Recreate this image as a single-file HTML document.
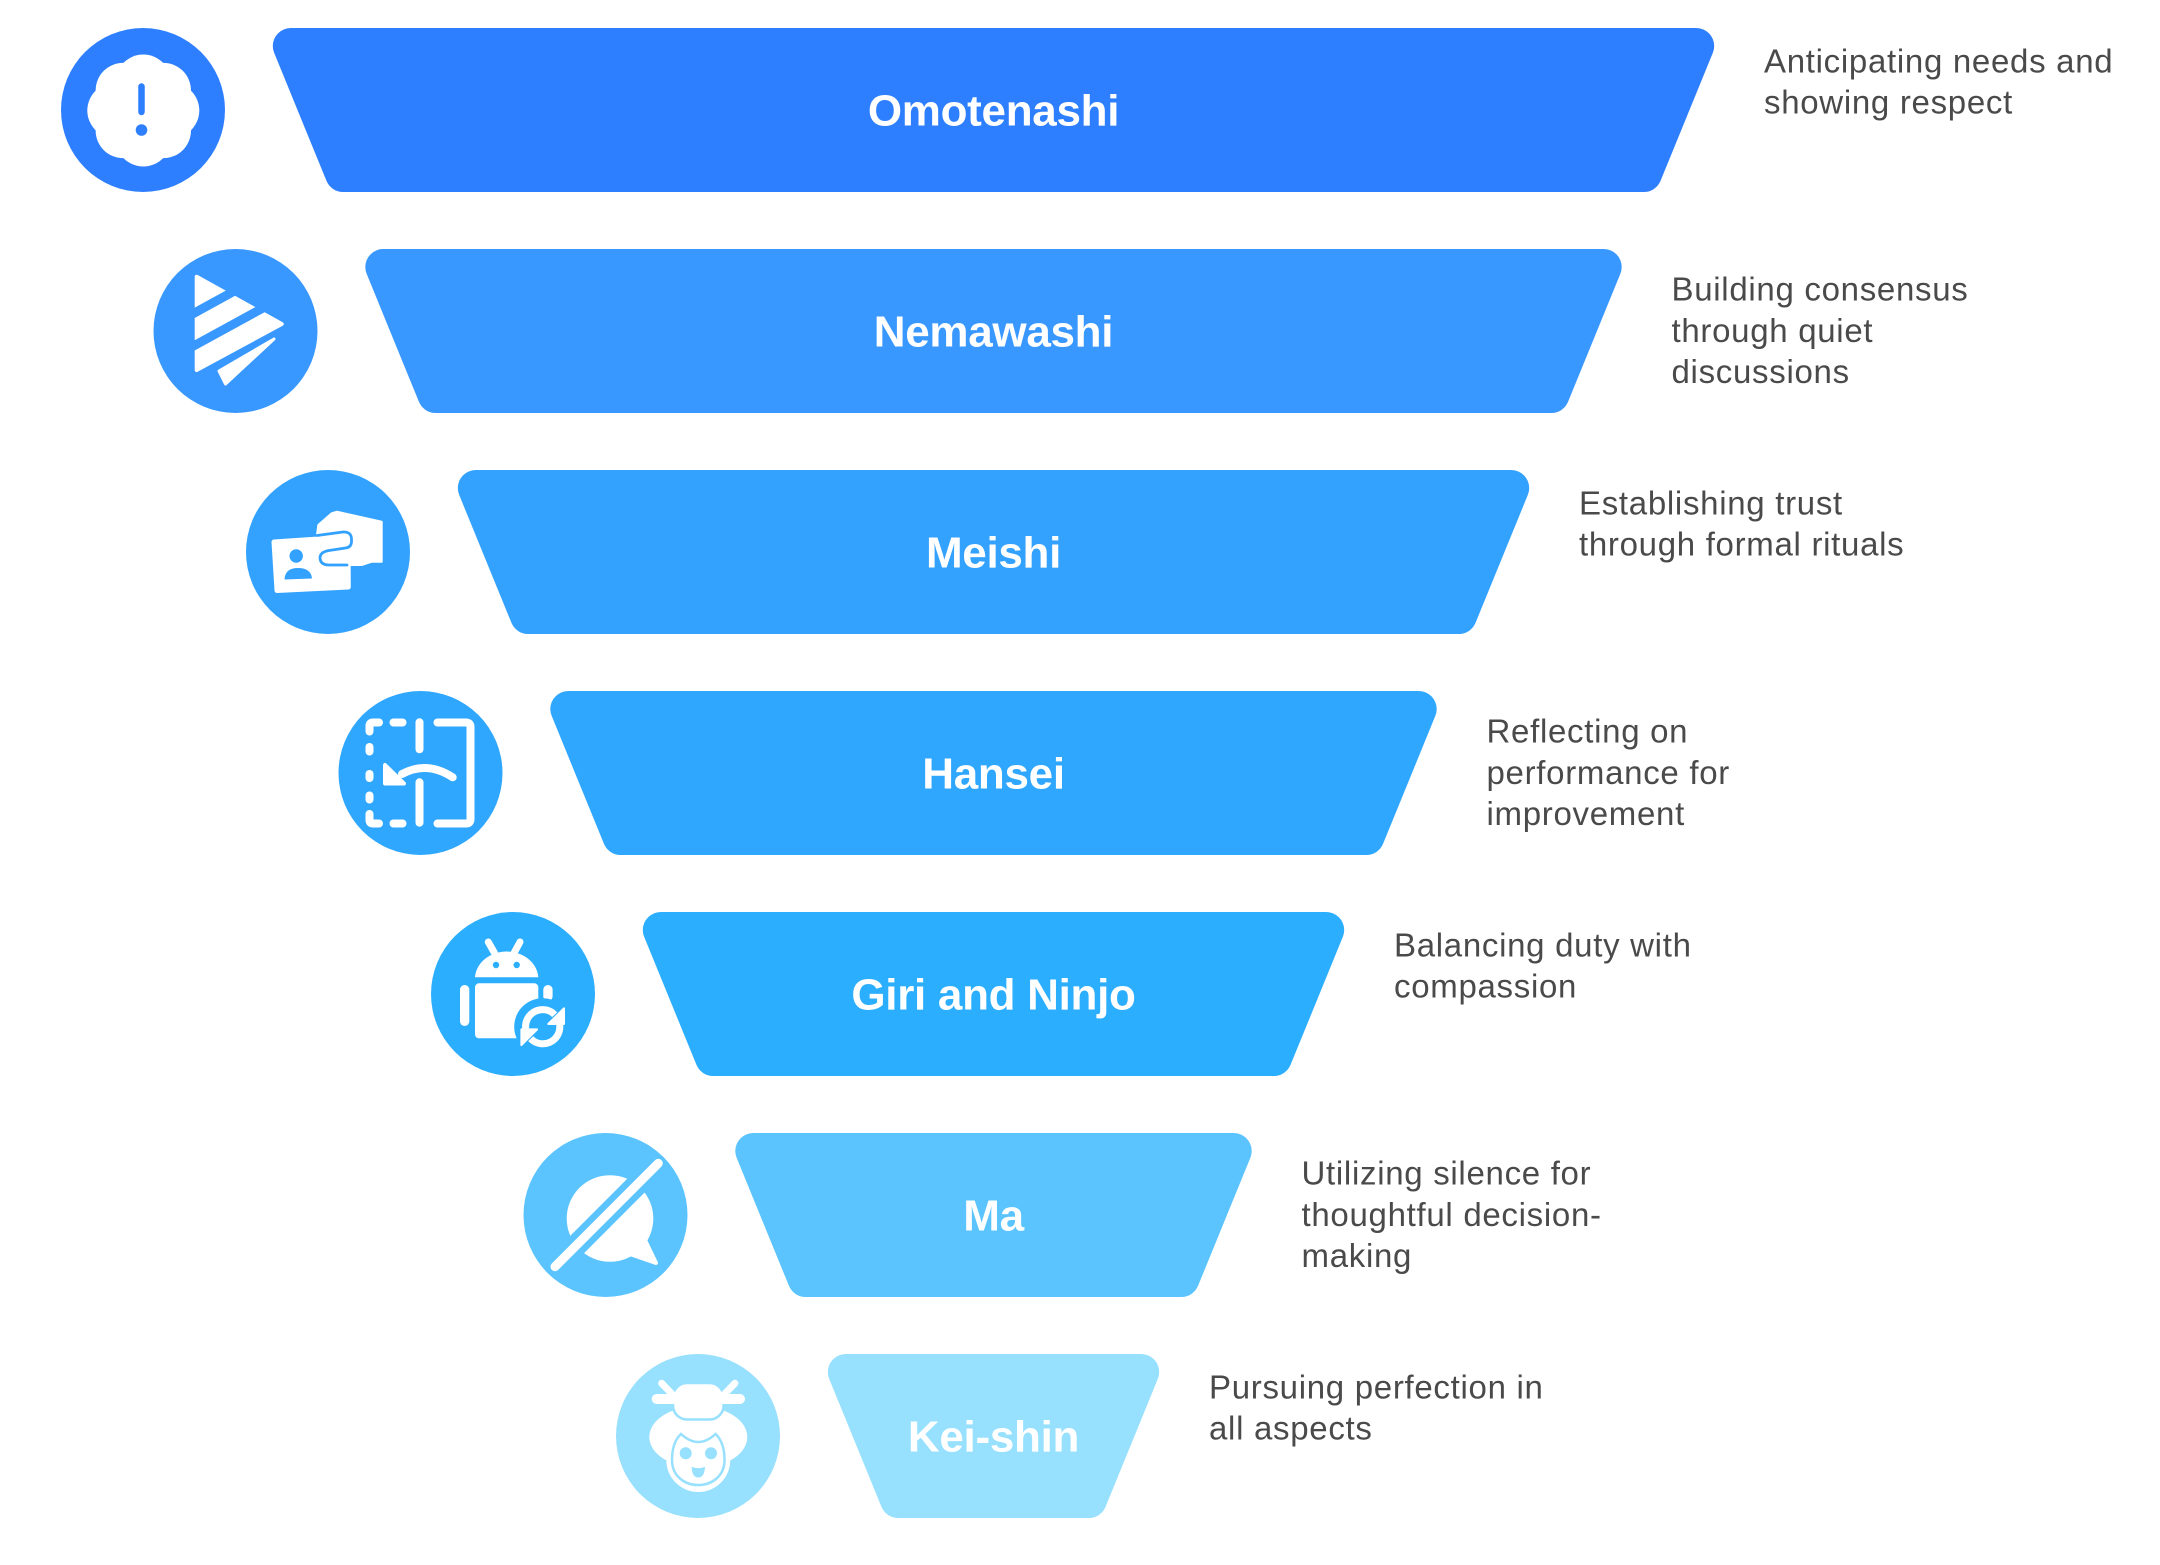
<!DOCTYPE html>
<html>
<head>
<meta charset="utf-8">
<style>
  html,body{margin:0;padding:0;background:#fff;}
  svg{display:block;}
  .t{font-family:"Liberation Sans",Arial,sans-serif;font-weight:bold;font-size:44px;fill:#fff;text-anchor:middle;letter-spacing:-0.3px;}
  .d{font-family:"Liberation Sans",Arial,sans-serif;font-size:33px;fill:#4a4a4a;letter-spacing:0.7px;}
</style>
</head>
<body>
<svg width="2160" height="1565" viewBox="0 0 2160 1565" xmlns="http://www.w3.org/2000/svg">
  <rect width="2160" height="1565" fill="#fff"/>

  <!-- Trapezoids (rounded via stroke join) -->
  <g stroke-linejoin="round" stroke-width="36">
    <polygon points="290.8,46 1696.2,46 1643.9,174 343.1,174" fill="#2E7FFF" stroke="#2E7FFF"/>
    <polygon points="383.3,267 1603.7,267 1551.4,395 435.6,395" fill="#3998FF" stroke="#3998FF"/>
    <polygon points="475.8,488 1511.2,488 1458.9,616 528.1,616" fill="#33A2FF" stroke="#33A2FF"/>
    <polygon points="568.3,709 1418.7,709 1366.4,837 620.6,837" fill="#30A7FF" stroke="#30A7FF"/>
    <polygon points="660.8,930 1326.2,930 1273.9,1058 713.1,1058" fill="#2CAEFF" stroke="#2CAEFF"/>
    <polygon points="753.3,1151 1233.7,1151 1181.4,1279 805.6,1279" fill="#5BC4FE" stroke="#5BC4FE"/>
    <polygon points="845.8,1372 1141.2,1372 1088.9,1500 898.1,1500" fill="#97E0FE" stroke="#97E0FE"/>
  </g>

  <!-- Titles -->
  <text class="t" x="993.5" y="125.5">Omotenashi</text>
  <text class="t" x="993.5" y="346.5">Nemawashi</text>
  <text class="t" x="993.5" y="567.5">Meishi</text>
  <text class="t" x="993.5" y="788.5">Hansei</text>
  <text class="t" x="993.5" y="1009.5">Giri and Ninjo</text>
  <text class="t" x="993.5" y="1230.5">Ma</text>
  <text class="t" x="993.5" y="1451.5">Kei-shin</text>

  <!-- Descriptions -->
  <text class="d" x="1764" y="72.5">Anticipating needs and</text>
  <text class="d" x="1764" y="113.5">showing respect</text>

  <text class="d" x="1671.5" y="300.5">Building consensus</text>
  <text class="d" x="1671.5" y="342">through quiet</text>
  <text class="d" x="1671.5" y="383">discussions</text>

  <text class="d" x="1579" y="514.5">Establishing trust</text>
  <text class="d" x="1579" y="555.5">through formal rituals</text>

  <text class="d" x="1486.5" y="742.5">Reflecting on</text>
  <text class="d" x="1486.5" y="784">performance for</text>
  <text class="d" x="1486.5" y="825">improvement</text>

  <text class="d" x="1394" y="956.5">Balancing duty with</text>
  <text class="d" x="1394" y="997.5">compassion</text>

  <text class="d" x="1301.5" y="1184.5">Utilizing silence for</text>
  <text class="d" x="1301.5" y="1226">thoughtful decision-</text>
  <text class="d" x="1301.5" y="1267">making</text>

  <text class="d" x="1209" y="1398.5">Pursuing perfection in</text>
  <text class="d" x="1209" y="1439.5">all aspects</text>

  <!-- Icon circles -->
  <circle cx="143" cy="110" r="82" fill="#2E7FFF"/>
  <circle cx="235.5" cy="331" r="82" fill="#3998FF"/>
  <circle cx="328" cy="552" r="82" fill="#33A2FF"/>
  <circle cx="420.5" cy="773" r="82" fill="#30A7FF"/>
  <circle cx="513" cy="994" r="82" fill="#2CAEFF"/>
  <circle cx="605.5" cy="1215" r="82" fill="#5BC4FE"/>
  <circle cx="698" cy="1436" r="82" fill="#97E0FE"/>

  <!-- Icon 1: scalloped badge with exclamation -->
  <g transform="translate(143.3,110.5)" fill="#fff">
    <circle r="44"/>
    <circle cx="0" cy="-28.5" r="27.5"/>
    <circle cx="20.15" cy="-20.15" r="27.5"/>
    <circle cx="28.5" cy="0" r="27.5"/>
    <circle cx="20.15" cy="20.15" r="27.5"/>
    <circle cx="0" cy="28.5" r="27.5"/>
    <circle cx="-20.15" cy="20.15" r="27.5"/>
    <circle cx="-28.5" cy="0" r="27.5"/>
    <circle cx="-20.15" cy="-20.15" r="27.5"/>
    <line x1="-1.8" y1="-24" x2="-1.8" y2="1.5" stroke="#2E7FFF" stroke-width="6.5" stroke-linecap="round"/>
    <circle cx="-1.8" cy="19.5" r="5.8" fill="#2E7FFF"/>
  </g>

  <!-- Icon 2: striped triangle / paper plane -->
  <g transform="translate(235.5,331)">
    <polygon points="-38.8,-54.3 46.2,-7 -38.8,39" fill="#fff" stroke="#fff" stroke-width="4" stroke-linejoin="round"/>
    <line x1="-43" y1="-17" x2="5" y2="-43.3" stroke="#3998FF" stroke-width="9"/>
    <line x1="-43" y1="15.6" x2="32" y2="-25.5" stroke="#3998FF" stroke-width="9"/>
    <polygon points="-16.5,40 38.5,8 -10,53" fill="#fff" stroke="#fff" stroke-width="3" stroke-linejoin="round"/>
  </g>

  <!-- Icon 3: business card handed over -->
  <g>
    <polygon points="274,542 348,537 348.3,587 277,590.5" fill="#fff" stroke="#fff" stroke-width="5" stroke-linejoin="round"/>
    <circle cx="296.2" cy="556" r="6.7" fill="#33A2FF"/>
    <path d="M284.5,579.5 Q285,568 298,568 Q311,568 312,578.5 Z" fill="#33A2FF"/>
    <polygon points="317,535 318.3,525 331.7,513.3 337,511.7 381.7,521.7 381.7,561.7 371.7,561.7 361.7,565 346,565" fill="#fff" stroke="#fff" stroke-width="2" stroke-linejoin="round"/>
    <path d="M317,535.5 L343,532 Q351.5,531.5 351.5,539.5 L351.5,542 Q351,547.5 345.5,548 L329,550.5 Q320,552 320,558 Q320.5,565 329,565 L347,565" fill="#fff" stroke="#33A2FF" stroke-width="2.8" stroke-linejoin="round" stroke-linecap="round"/>
  </g>

  <!-- Icon 4: flip / reflect -->
  <g fill="none" stroke="#fff" stroke-width="8" stroke-linecap="round" stroke-linejoin="round">
    <path d="M379,722.5 L373,722.5 Q369.5,722.5 369.5,726 L369.5,731.5"/>
    <line x1="393.5" y1="722.5" x2="402.5" y2="722.5"/>
    <line x1="369.5" y1="747" x2="369.5" y2="751.5"/>
    <line x1="369.5" y1="774" x2="369.5" y2="778"/>
    <line x1="369.5" y1="795.5" x2="369.5" y2="799.5"/>
    <path d="M369.5,814 L369.5,820 Q369.5,823.5 373,823.5 L379,823.5"/>
    <line x1="393.5" y1="823.5" x2="402.5" y2="823.5"/>
    <line x1="419.5" y1="722.3" x2="419.5" y2="749.3"/>
    <line x1="419.5" y1="782.3" x2="419.5" y2="822.7"/>
    <path d="M437.5,722.5 L466,722.5 Q470.5,722.5 470.5,727 L470.5,819 Q470.5,823.5 466,823.5 L437.5,823.5"/>
    <path d="M452.7,777.3 Q427,760.5 402,774"/>
    <polygon points="385,765 385,783.5 404,783.5" fill="#fff" stroke-width="4"/>
  </g>

  <!-- Icon 5: android with sync -->
  <g>
    <g stroke="#fff" stroke-width="7" stroke-linecap="round">
      <line x1="488.3" y1="942" x2="494.5" y2="953"/>
      <line x1="520" y1="942" x2="514" y2="953"/>
    </g>
    <path d="M475,977.3 A31.7,27.3 0 0 1 538.3,977.3 Z" fill="#fff"/>
    <circle cx="496" cy="965" r="3.2" fill="#2CAEFF"/>
    <circle cx="516.7" cy="965" r="3.2" fill="#2CAEFF"/>
    <rect x="475" y="983.3" width="63.3" height="55" rx="4" fill="#fff"/>
    <rect x="460" y="985" width="9.3" height="41" rx="4.6" fill="#fff"/>
    <rect x="543.3" y="985" width="9.3" height="16" rx="4.6" fill="#fff"/>
    <circle cx="542.7" cy="1026.7" r="28.5" fill="#2CAEFF"/>
    <g transform="translate(542.7,1026.7)">
      <path d="M-17,2 A17,17 0 0 1 12,-12" fill="none" stroke="#fff" stroke-width="7"/>
      <polygon points="21.3,-18.4 21.3,-2.7 5.6,-2.7" fill="#fff" stroke="#fff" stroke-width="2" stroke-linejoin="round"/>
      <path d="M17,-2 A17,17 0 0 1 -12,12" fill="none" stroke="#fff" stroke-width="7"/>
      <polygon points="-21.3,18.4 -21.3,2.7 -5.6,2.7" fill="#fff" stroke="#fff" stroke-width="2" stroke-linejoin="round"/>
    </g>
  </g>

  <!-- Icon 6: speech bubble with slash -->
  <g>
    <circle cx="610" cy="1218.5" r="43.3" fill="#fff"/>
    <polygon points="644,1238 656,1263 630,1254" fill="#fff" stroke="#fff" stroke-width="4" stroke-linejoin="round"/>
    <line x1="555" y1="1266.7" x2="658.3" y2="1163.3" stroke="#5BC4FE" stroke-width="22"/>
    <line x1="555" y1="1266.7" x2="658.3" y2="1163.3" stroke="#fff" stroke-width="9" stroke-linecap="round"/>
  </g>

  <!-- Icon 7: geisha face -->
  <g>
    <ellipse cx="698.3" cy="1437" rx="49" ry="31" fill="#fff"/>
    <circle cx="698.3" cy="1460" r="32" fill="#fff"/>
    <path d="M681,1434 Q698.3,1450 715.6,1434 C722,1440 724.5,1450 724.5,1460 C724.5,1476 712,1485 698.3,1485 C684.5,1485 672,1476 672,1460 C672,1450 674.5,1440 681,1434 Z" fill="#fff" stroke="#97E0FE" stroke-width="2.5"/>
    <rect x="673" y="1383" width="50.6" height="36.5" rx="14" fill="#fff" stroke="#97E0FE" stroke-width="2.5"/>
    <g stroke="#fff" stroke-linecap="round">
      <line x1="661.7" y1="1383.3" x2="672" y2="1394" stroke-width="7"/>
      <line x1="734.9" y1="1383.3" x2="724.6" y2="1394" stroke-width="7"/>
      <line x1="656.7" y1="1399" x2="740" y2="1399" stroke-width="10"/>
    </g>
    <circle cx="685.7" cy="1453.3" r="6" fill="#97E0FE"/>
    <circle cx="711" cy="1453.3" r="6" fill="#97E0FE"/>
    <path d="M691.7,1466.7 Q698.3,1469.5 705,1466.7 Q704.5,1477.5 698.3,1477.5 Q692,1477.5 691.7,1466.7 Z" fill="#97E0FE"/>
  </g>
</svg>
</body>
</html>
